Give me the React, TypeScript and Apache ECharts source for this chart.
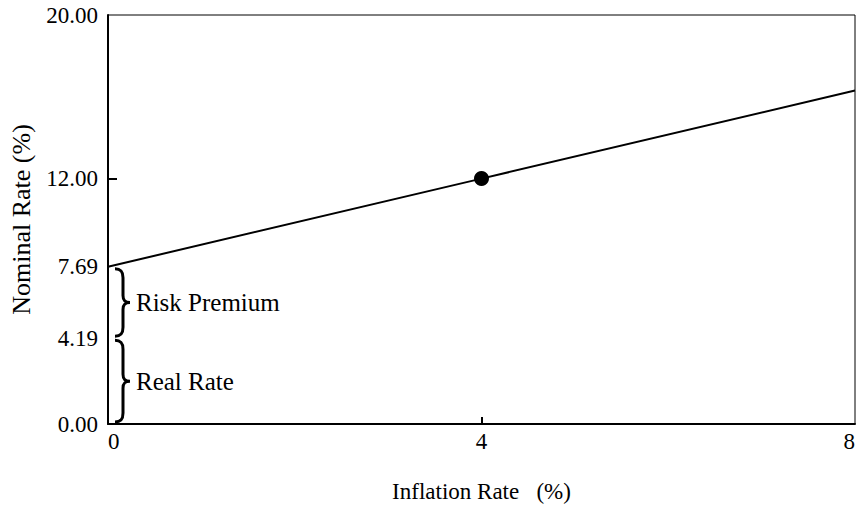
import React, { useEffect, useRef } from "react";
import * as echarts from "echarts";

const xTicks = [0, 4, 8];
const inflationRates = [0, 4, 8];
const nominalRates = [7.69, 12.0, 16.31];
const yTicks = [0, 4.19, 7.69, 12, 20];
const xTickMarks = [4];
const yTickMarks = [12];
const highlightPoint = [4, 12];
const bandLabels = ["Risk Premium", "Real Rate"];
const bandLow = [4.19, 0];
const bandHigh = [7.69, 4.19];

const FONT = "Liberation Serif";

export default function App() {
  const ref = useRef<HTMLDivElement>(null);
  useEffect(() => {
    document.body.style.margin = "0";
    const chart = echarts.init(ref.current!, null, { renderer: "svg" });
    chart.setOption({
      animation: false,
      backgroundColor: "#fff",
      textStyle: { fontFamily: FONT, color: "#000" },
      grid: {
        left: 106,
        right: 1,
        top: 15,
        bottom: 81,
        show: true,
        borderColor: "#000",
        borderWidth: 1,
        containLabel: false,
      },
      xAxis: {
        type: "value",
        min: 0,
        max: 8,
        interval: 4,
        name: "Inflation Rate   (%)",
        nameLocation: "middle",
        nameGap: 56,
        nameTextStyle: { fontFamily: FONT, fontSize: 23, color: "#000" },
        axisLine: { show: true, lineStyle: { color: "#000", width: 2 } },
        axisTick: {
          show: true,
          inside: true,
          length: 7,
          customValues: xTickMarks,
          lineStyle: { color: "#000", width: 2 },
        },
        splitLine: { show: false },
        axisLabel: {
          customValues: xTicks,
          fontFamily: FONT,
          fontSize: 23,
          color: "#000",
          margin: 6,
          alignMinLabel: "left",
          alignMaxLabel: "right",
        },
      },
      yAxis: {
        type: "value",
        min: 0,
        max: 20,
        name: "Nominal Rate (%)",
        nameLocation: "middle",
        nameGap: 74,
        nameTextStyle: { fontFamily: FONT, fontSize: 26, color: "#000" },
        axisLine: { show: true, lineStyle: { color: "#000", width: 2 } },
        axisTick: {
          show: true,
          inside: true,
          length: 9,
          customValues: yTickMarks,
          lineStyle: { color: "#000", width: 2 },
        },
        splitLine: { show: false },
        axisLabel: {
          customValues: yTicks,
          formatter: (v: number) => v.toFixed(2),
          fontFamily: FONT,
          fontSize: 23,
          color: "#000",
          margin: 10,
        },
      },
      series: [
        {
          type: "line",
          data: inflationRates.map((x, i) => [x, nominalRates[i]]),
          symbol: "none",
          lineStyle: { color: "#000", width: 2 },
          silent: true,
        },
        {
          type: "scatter",
          data: [highlightPoint],
          symbolSize: 15,
          itemStyle: { color: "#000", opacity: 1 },
        },
        {
          type: "custom",
          coordinateSystem: "cartesian2d",
          clip: false,
          data: bandLabels.map((_, i) => [0, bandLow[i], bandHigh[i]]),
          renderItem: (params: any, api: any) => {
            const i = params.dataIndex;
            const top = api.coord([0, bandHigh[i]]);
            const bot = api.coord([0, bandLow[i]]);
            const x0 = top[0] + 7;
            const yT = top[1] + 2;
            const yB = bot[1] - 2;
            const ym = (yT + yB) / 2;
            const d =
              `M${x0},${yT} C${x0 + 6},${yT} ${x0 + 8},${yT + 3} ${x0 + 8},${yT + 9} ` +
              `L${x0 + 8},${ym - 7} C${x0 + 8},${ym - 2} ${x0 + 10},${ym} ${x0 + 15},${ym} ` +
              `C${x0 + 10},${ym} ${x0 + 8},${ym + 2} ${x0 + 8},${ym + 7} ` +
              `L${x0 + 8},${yB - 9} C${x0 + 8},${yB - 3} ${x0 + 6},${yB} ${x0},${yB}`;
            return {
              type: "group",
              children: [
                {
                  type: "path",
                  shape: { pathData: d },
                  style: { stroke: "#000", fill: "none", lineWidth: 3 },
                },
                {
                  type: "text",
                  x: x0 + 21,
                  y: ym,
                  style: {
                    text: bandLabels[i],
                    font: `25px "${FONT}"`,
                    fontFamily: FONT,
                    fontSize: 25,
                    fill: "#000",
                    verticalAlign: "middle",
                    align: "left",
                  },
                },
              ],
            };
          },
        },
      ],
    });
    return () => chart.dispose();
  }, []);
  return (
    <div
      ref={ref}
      style={{ position: "absolute", left: 0, top: 0, width: 858, height: 508 }}
    />
  );
}
